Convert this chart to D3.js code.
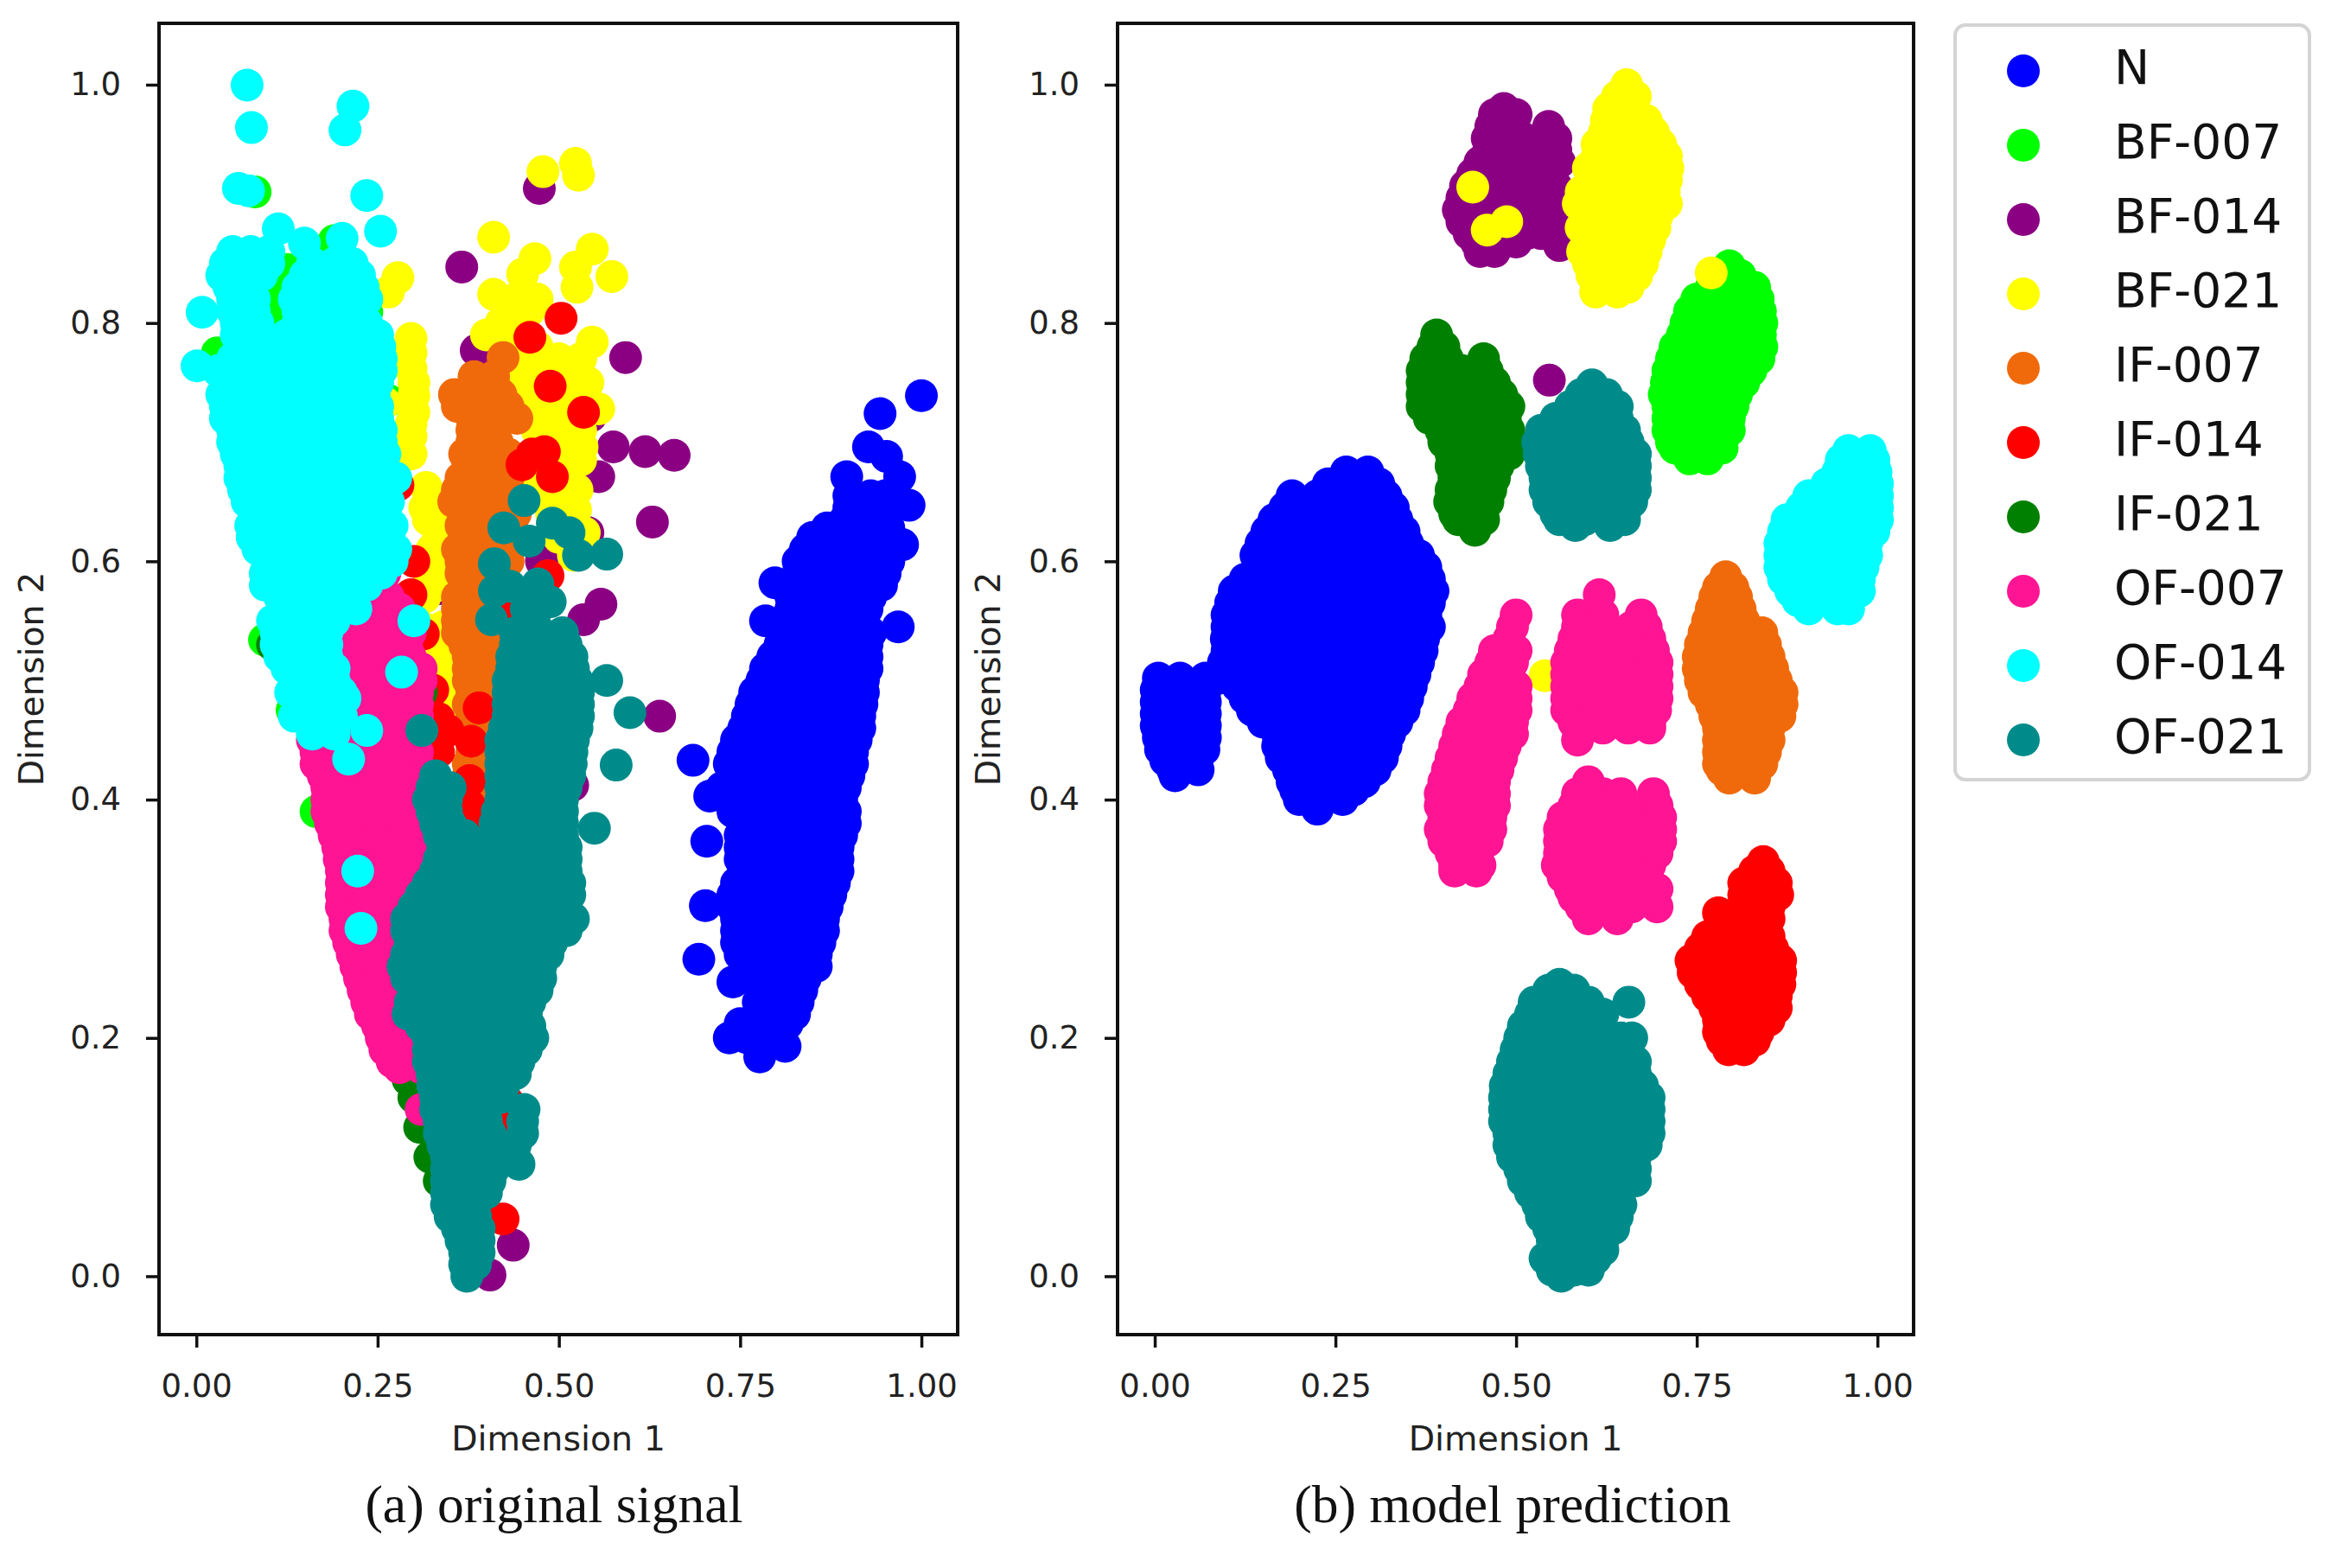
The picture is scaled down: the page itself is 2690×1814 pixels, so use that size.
<!DOCTYPE html>
<html lang="en">

<head>
    <meta charset="UTF-8">
    <title>Dimension reduction scatter: original signal and model prediction</title>
    <script src="https://d3js.org/d3.v7.min.js"></script>
    <style>
        body {
            margin: 0;
            background: #fff;
        }

        .tick text {
            font-family: 'DejaVu Sans', sans-serif;
            font-size: 37px;
            fill: #222;
        }

        .axis-label {
            font-family: 'DejaVu Sans', sans-serif;
            font-size: 39.5px;
            fill: #222;
        }

        .legend-label {
            font-family: 'DejaVu Sans', sans-serif;
            font-size: 55px;
            fill: #111;
        }

        .caption {
            font-family: 'Liberation Serif', serif;
            font-size: 61.5px;
            fill: #111;
            text-anchor: middle;
        }
    </style>
</head>

<body>
    <div id="chart"></div>
    <script>

    var categories = ["N", "BF-007", "BF-014", "BF-021", "IF-007", "IF-014", "IF-021", "OF-007", "OF-014", "OF-021"];
    var colors = ["#0000ff", "#00ff00", "#8b0082", "#ffff00", "#f06a0c", "#ff0000", "#008000", "#ff1493", "#00ffff", "#008b8b"];
    var xTicks = [0, 0.25, 0.5, 0.75, 1];
    var yTicks = [0, 0.2, 0.4, 0.6, 0.8, 1];

    // every row is [dimension 2, dimension 1, dimension 1, ...]

    // (a) original signal
    var origN = [
        [.739,1],[.724,.943],[.696,.927],[.688,.952],[.671,.97],[.671,.897],[.647,.983],[.614,.974],[.545,.968],[.582,.798],[.55,.785],
        [.433,.685],[.403,.708],[.365,.704],[.311,.702],[.266,.693],[.247,.74],[.2,.735],[.184,.777],[.193,.812],
        [.655,.9,.93,.95],[.635,.895,.93,.945],[.62,.85,.885,.92,.95],[.6,.83,.865,.9,.935,.955],[.58,.825,.86,.895,.93,.945],
        [.56,.82,.855,.89,.925],[.54,.81,.845,.88,.915,.93],[.52,.795,.83,.865,.9,.925],[.5,.78,.815,.85,.885,.92],
        [.48,.765,.8,.835,.87,.905,.918],[.46,.755,.79,.825,.86,.895,.915],[.44,.74,.775,.81,.845,.88,.905],
        [.42,.74,.775,.81,.845,.88,.9],[.4,.74,.775,.81,.845,.88,.89],[.38,.755,.79,.825,.86,.895],[.36,.75,.785,.82,.855,.885],
        [.34,.755,.79,.825,.86,.885],[.32,.74,.775,.81,.845,.875],[.3,.745,.78,.815,.85,.865],[.28,.745,.78,.815,.85,.86],
        [.26,.76,.795,.83,.855],[.24,.78,.81,.835],[.22,.78,.81,.825],[.205,.78,.8],
        [.645,.9,.935,.96],[.628,.87,.905,.94,.955],[.61,.84,.875,.91,.945,.96],[.59,.83,.865,.9,.935,.95],[.57,.82,.855,.89,.925,.93],[.55,.815,.85,.885,.92],
        [.53,.805,.84,.875,.91,.925],[.51,.785,.82,.855,.89,.925],[.49,.77,.805,.84,.875,.91,.92],[.47,.76,.795,.83,.865,.9,.915],[.45,.745,.78,.815,.85,.885,.91],
        [.43,.735,.77,.805,.84,.875,.905],[.41,.725,.76,.795,.83,.865,.895],[.39,.74,.775,.81,.845,.88,.895],[.37,.75,.785,.82,.855,.89],[.35,.75,.785,.82,.855,.885],
        [.33,.745,.78,.815,.85,.88],[.31,.74,.775,.81,.845,.87],[.29,.745,.78,.815,.85,.865],[.27,.75,.785,.82,.855],[.25,.775,.81,.84],[.23,.775,.805,.83],
        [.212,.75,.79,.815],[.2,.76,.79]
    ];
    var origBF007 = [
        [.91,.081],[.869,.19],[.85,.098],[.813,.107],[.803,.214],[.809,.235],[.775,.029],[.735,.265],[.39,.165],[.534,.094],[.475,.132],[.773,.098],[.807,.192],
        [.83,.11],[.8,.105],[.845,.125]
    ];
    var origBF014 = [
        [.913,.473],[.847,.366],[.771,.592],[.745,.534],[.722,.544],[.696,.575],[.692,.619],[.689,.659],[.671,.555],[.658,.519],[.633,.629],[.624,.54],
        [.609,.515],[.564,.558],[.551,.534],[.577,.334],[.526,.34],[.47,.639],[.777,.386],[.412,.519],[.001,.405],[.026,.437],[.6,.476]
    ];
    var origBF021 = [
        [.927,.478],[.934,.523],[.924,.527],[.872,.41],[.862,.546],[.854,.467],[.841,.45],[.847,.523],[.83,.525],[.839,.573],[.824,.41],[.811,.46],
        [.79,.4],[.784,.546],[.838,.278],[.826,.265],[.787,.296],[.762,.296],[.739,.3],[.705,.296],[.69,.296],[.733,.26],
        [.8,.42,.44],[.78,.43,.47],[.76,.459,.49,.52],[.74,.467,.5,.53],[.728,.555,.47],[.71,.47,.5,.53],[.696,.532,.5],[.67,.47,.5],[.655,.5],[.643,.523],[.624,.535],
        [.662,.317],[.645,.315],[.63,.33],[.61,.325],[.59,.326],[.57,.315],[.555,.21],[.513,.128],[.49,.132],[.5,.34],[.46,.35],
        [.82,.44,.47],[.77,.44,.46,.5,.53],[.75,.45,.48,.51,.54],[.73,.49,.52,.54],[.72,.47,.5,.525],[.685,.48,.51,.53],[.66,.47,.51,.525],[.64,.49,.515],[.62,.5,.53],[.605,.52],
        [.775,.296],[.75,.3],[.725,.3],[.715,.296],[.65,.325],[.635,.32],[.6,.33],[.58,.32,.335],[.545,.31,.34],[.53,.32],[.52,.315,.35],[.48,.345],[.47,.355],[.57,.19],[.53,.13]
    ];
    var origIF007 = [
        [.771,.423],[.755,.383,.41],[.74,.356,.39,.42],[.72,.38,.41,.442],[.7,.38,.415],[.68,.375,.41,.425],[.66,.36,.395,.43],[.64,.375,.41,.44],
        [.62,.37,.405],[.6,.365,.4,.43],[.58,.37,.405],[.56,.36,.395],[.54,.36,.395],[.52,.375,.41],[.5,.375,.41],[.48,.375,.41],[.46,.375,.41],
        [.44,.38,.41],[.42,.375,.39],[.4,.365,.385],[.385,.37],
        [.73,.36,.395,.43],[.71,.38,.41],[.69,.37,.41,.43],[.67,.365,.4,.43],[.65,.355,.39,.43],[.63,.365,.4,.435],[.61,.36,.395,.425],[.59,.365,.4],[.57,.36,.395],[.55,.36,.395],
        [.53,.37,.405],[.51,.375,.41],[.49,.38,.41],[.47,.38,.41],[.45,.38,.405],[.43,.375,.395],[.41,.37,.385],[.39,.37]
    ];
    var origIF014 = [
        [.804,.503],[.788,.46],[.747,.488],[.725,.534],[.69,.463],[.692,.48],[.681,.449],[.671,.491],[.664,.278],[.6,.3],[.572,.296],[.539,.313],[.588,.485],
        [.492,.326],[.477,.39],[.468,.334],[.449,.379],[.44,.334],[.395,.377],[.374,.377],[.048,.423],[.146,.43],[.135,.43],[.555,.433],[.458,.347],[.416,.377]
    ];
    var origIF021 = [
        [.165,.292],[.15,.3],[.125,.308],[.1,.322],[.08,.335],[.495,.215],[.49,.31],[.53,.105],[.47,.23]
    ];
    var origOF007 = [
        [.59,.23,.26],[.57,.23,.265],[.55,.2,.23,.27],[.53,.2,.23,.265,.29],[.51,.18,.215,.25,.285,.31],[.49,.17,.205,.24,.275,.305],
        [.47,.165,.2,.235,.27,.305],[.45,.16,.195,.23,.265,.3],[.43,.165,.2,.235,.27,.305],[.41,.18,.215,.25,.285,.32],[.39,.18,.215,.25,.285,.32],
        [.37,.19,.225,.26,.295,.33],[.35,.197,.23,.265,.3,.33],[.33,.2,.235,.27,.305],[.31,.2,.235,.27,.3],[.29,.205,.24,.275,.31],
        [.27,.215,.25,.285,.32],[.25,.225,.26,.295,.33],[.23,.235,.27,.305,.335],[.21,.25,.285,.32],[.19,.26,.295,.33],[.175,.28,.31],[.14,.31],
        [.58,.25],[.56,.22,.25,.28],[.54,.195,.23,.265,.295],[.52,.19,.225,.26,.295],[.5,.175,.21,.245,.28,.31],[.48,.165,.2,.235,.27,.305],[.46,.16,.195,.23,.265,.3],
        [.44,.165,.2,.235,.27,.305],[.42,.175,.21,.245,.28,.315],[.4,.18,.215,.25,.285,.32],[.38,.185,.22,.255,.29,.325],[.36,.195,.23,.265,.3,.33],[.34,.2,.235,.27,.305],
        [.32,.2,.235,.27,.3],[.3,.205,.24,.275,.31],[.28,.21,.245,.28,.315],[.26,.22,.255,.29,.325],[.24,.23,.265,.3,.33],[.22,.24,.275,.31],[.2,.255,.29,.325],[.18,.27,.305]
    ];
    var origOF014 = [
        [.9996,.07],[.964,.076],[.982,.216],[.962,.205],[.913,.058],[.911,.072],[.907,.235],[.877,.254],[.879,.113],[.867,.149],[.809,.008],[.764,.001],[.871,.201],
        [.34,.2225],[.292,.227],[.55,.3],[.507,.283],[.434,.21],[.458,.235],[.462,.171],
        [.86,.05,.075,.1],[.84,.035,.065,.09,.15,.18,.2,.225],[.82,.05,.08,.135,.165,.2,.235],[.8,.055,.085,.14,.175,.21,.235],[.78,.06,.09,.125,.16,.195,.253],
        [.76,.03,.06,.095,.13,.165,.2,.235,.255],[.74,.035,.07,.105,.14,.175,.21,.245],[.72,.04,.075,.11,.145,.18,.215,.25],[.7,.05,.085,.12,.155,.19,.225,.255],
        [.68,.06,.095,.13,.165,.2,.235,.255],[.67,.275],[.66,.065,.1,.135,.17,.205,.24,.255],[.64,.08,.115,.15,.185,.22,.255,.26],[.62,.077,.11,.145,.18,.215,.25,.265],
        [.6,.105,.14,.175,.21,.245,.27],[.58,.095,.13,.165,.2,.225,.235],[.56,.13,.165,.2,.22],[.54,.11,.145,.18],[.52,.115,.15,.18],[.5,.137,.16,.19],[.485,.14,.175,.205],[.47,.135,.17,.2],[.455,.16,.19],
        [.85,.04,.07,.1,.16,.19,.215],[.83,.045,.075,.14,.17,.2,.23],[.81,.05,.08,.14,.17,.2,.225],[.79,.055,.09,.125,.16,.19,.23,.25],[.77,.05,.085,.12,.155,.19,.225,.255],
        [.75,.04,.075,.11,.145,.18,.215,.25],[.73,.04,.075,.11,.145,.18,.215,.25],[.71,.05,.085,.12,.155,.19,.225,.255],[.69,.055,.09,.125,.16,.195,.23,.26],[.67,.06,.095,.13,.165,.2,.235],
        [.65,.07,.105,.14,.175,.21,.245,.265],[.63,.075,.11,.145,.18,.215,.25,.27],[.61,.085,.12,.155,.19,.225,.26,.275],[.59,.095,.13,.165,.2,.235,.255],[.57,.115,.15,.185,.215],
        [.55,.105,.14,.175,.19],[.53,.11,.145,.18],[.51,.125,.16,.19],[.49,.13,.165,.2]
    ];
    var origOF021 = [
        [.651,.452],[.628,.424],[.632,.491],[.624,.514],[.605,.527],[.606,.566],[.617,.459],[.598,.411],[.575,.411],[.579,.433],[.551,.407],[.581,.471],[.566,.488],
        [.5,.566],[.473,.598],[.429,.579],[.376,.549],[.458,.311],[.094,.445],
        [.56,.455,.47],[.54,.44,.475,.505],[.52,.435,.47,.505,.518],[.5,.43,.465,.5,.525],[.48,.43,.465,.5,.527],[.46,.425,.46,.495,.525],[.44,.42,.455,.49,.518],
        [.42,.33,.42,.455,.49,.515],[.4,.32,.345,.42,.455,.49,.505],[.38,.33,.35,.412,.445,.48,.505],[.36,.34,.375,.41,.445,.48,.51],[.34,.33,.365,.4,.435,.47,.51],
        [.32,.31,.345,.38,.415,.45,.485,.515],[.3,.29,.325,.36,.395,.43,.465,.5,.52],[.28,.295,.33,.365,.4,.435,.47,.49],[.26,.285,.32,.355,.39,.425,.46,.475],
        [.24,.3,.335,.37,.405,.44,.47],[.22,.292,.33,.365,.4,.435,.455],[.2,.32,.355,.39,.425,.464],[.18,.32,.355,.39,.425,.445],[.16,.326,.36,.395,.424],
        [.14,.33,.365,.4,.452],[.12,.335,.37,.405,.45],[.1,.345,.38,.405],[.08,.345,.38,.405],[.06,.345,.385],[.04,.36,.39],[.02,.37,.39],[0,.373],
        [.53,.44,.475,.51],[.51,.435,.47,.505,.52],[.49,.43,.465,.5,.527],[.47,.43,.465,.5,.527],[.45,.42,.455,.49,.52],[.43,.42,.455,.49,.517],[.41,.325,.35,.42,.455,.49,.51],
        [.39,.325,.345,.415,.45,.485,.505],[.37,.335,.37,.41,.445,.48,.505],[.35,.335,.37,.405,.44,.475,.51],[.33,.32,.355,.39,.425,.46,.495,.515],[.31,.3,.335,.37,.405,.44,.475,.51],
        [.29,.29,.325,.36,.395,.43,.465,.5,.51],[.27,.29,.325,.36,.395,.43,.465,.485],[.25,.29,.325,.36,.395,.43,.465,.475],[.23,.295,.33,.365,.4,.435,.46],[.21,.31,.345,.38,.415,.45,.46],
        [.19,.32,.355,.39,.425,.455],[.17,.325,.36,.395,.43,.44],[.15,.33,.365,.4,.42],[.13,.335,.37,.4,.45],[.11,.34,.375,.405,.44],[.09,.345,.38,.41],[.07,.345,.38,.4],[.05,.35,.385],[.03,.365,.39],[.01,.37,.385]
    ];

    // (b) model prediction
    var predN = [
        [.675,.265,.295],[.655,.19,.225,.26,.295,.32],[.635,.165,.2,.235,.27,.305,.335],[.615,.147,.18,.215,.25,.285,.32,.35],[.595,.147,.165,.2,.235,.27,.305,.34,.375],
        [.575,.11,.145,.18,.215,.25,.285,.32,.355,.385],[.555,.1,.13,.165,.2,.235,.27,.305,.34,.375],[.535,.099,.115,.15,.185,.22,.255,.29,.325,.36,.372],
        [.515,.095,.13,.165,.2,.235,.27,.305,.34,.365],[.495,.115,.15,.185,.22,.255,.29,.325,.355],[.475,.135,.17,.205,.24,.275,.31,.345],[.455,.17,.205,.24,.275,.31,.325],
        [.435,.175,.21,.245,.28,.315],[.415,.19,.225,.26,.29],[.4,.2,.23,.26],[.392,.225],
        [.502,.005,.035,.07,.09],[.482,.002,.035,.07],[.462,.002,.035,.07],[.442,.008,.04,.068],[.425,.025,.06],[.42,.028],
        [.665,.24,.28,.31],[.645,.18,.21,.245,.28,.315,.33],[.625,.155,.19,.225,.26,.295,.33,.345],[.605,.14,.175,.21,.245,.28,.315,.35,.365],[.585,.125,.16,.195,.23,.265,.3,.335,.37,.38],
        [.565,.105,.13,.17,.2,.24,.27,.31,.34,.38],[.545,.1,.14,.175,.21,.245,.28,.315,.35,.38],[.525,.1,.13,.17,.2,.24,.27,.31,.34,.37],[.505,.1,.14,.175,.21,.245,.28,.315,.35,.36],
        [.485,.125,.165,.2,.235,.27,.305,.34,.35],[.465,.15,.185,.22,.255,.29,.325,.335],[.445,.17,.195,.23,.265,.3,.32],[.425,.185,.22,.255,.285,.305],[.408,.195,.25,.275],
        [.492,.002,.035,.07],[.472,.002,.035,.07],[.452,.005,.035,.07],[.433,.015,.05]
    ];
    var predBF007 = [
        [.848,.795],[.83,.77,.805,.83],[.81,.74,.775,.81,.838],[.79,.73,.765,.8,.838],[.77,.715,.75,.785,.82,.836],[.75,.708,.74,.775,.81,.815],
        [.73,.71,.745,.78,.8],[.71,.71,.745,.775,.795],[.695,.72,.755,.785],[.686,.74,.765],[.84,.655],
        [.84,.78,.81],[.82,.75,.785,.82,.835],[.8,.735,.77,.805,.84],[.78,.72,.755,.79,.825,.84],[.76,.71,.745,.78,.815,.825],[.74,.705,.74,.775,.805],[.72,.71,.745,.78,.795],[.7,.715,.75,.785]
    ];
    var predBF014 = [
        [.98,.483],[.965,.465,.495,.545],[.945,.462,.495,.53,.555],[.925,.44,.475,.51,.545],[.905,.425,.46,.495,.53,.555],[.885,.425,.46,.495,.53,.557],
        [.868,.445,.465,.5],[.865,.56],[.752,.546],
        [.975,.47,.5],[.955,.46,.48,.51,.54,.555],[.935,.45,.48,.515,.55,.56],[.915,.43,.46,.49,.525,.555],[.895,.42,.44,.475,.51,.545,.555],[.875,.435,.45,.48,.515,.535],[.86,.45,.47]
    ];
    var predBF021 = [
        [1,.653],[.98,.628,.66],[.96,.622,.655,.69],[.94,.612,.645,.68,.708],[.92,.61,.645,.68,.708],[.9,.586,.62,.655,.69,.708],[.88,.59,.625,.66,.692],
        [.86,.592,.625,.66,.68],[.84,.605,.64,.667],[.826,.61,.64],
        [.99,.64,.665],[.97,.625,.655,.68],[.95,.612,.64,.67,.7],[.93,.6,.63,.66,.695,.71],[.91,.59,.625,.66,.695,.705],[.89,.595,.63,.665,.695],[.87,.6,.635,.67,.685],[.85,.6,.63,.665,.675],[.83,.615,.645,.655],
        [.914,.44],[.878,.46],[.885,.487],[.842,.77],[.504,.54]
    ];
    var predIF007 = [
        [.587,.79],[.57,.775,.805],[.55,.765,.8,.815],[.53,.755,.79,.825,.845],[.51,.752,.785,.82,.855],[.49,.76,.795,.83,.868],[.47,.775,.81,.845,.865],
        [.45,.78,.815,.85],[.43,.78,.815,.84],[.418,.795,.83],
        [.578,.78,.8],[.56,.77,.795,.81],[.54,.76,.79,.82,.84],[.52,.752,.785,.82,.85],[.5,.755,.79,.825,.86],[.48,.77,.805,.84,.868],[.46,.78,.815,.85],[.44,.78,.815,.845],[.425,.785,.83]
    ];
    var predIF014 = [
        [.348,.842],[.33,.815,.85,.86],[.31,.815,.85],[.285,.765,.8,.835,.85],[.265,.742,.775,.81,.845,.866],[.245,.755,.79,.825,.865],[.225,.775,.81,.845,.86],
        [.205,.78,.815,.835],[.19,.794,.815],
        [.34,.83,.85],[.32,.815,.85,.862],[.3,.785,.82,.85],[.275,.755,.79,.825,.855],[.255,.745,.78,.815,.85,.866],[.235,.765,.8,.835,.86],[.215,.78,.815,.85],[.198,.785,.82,.83],[.305,.78]
    ];
    var predIF021 = [
        [.79,.39],[.77,.375,.405,.455],[.75,.37,.405,.44,.47],[.73,.37,.405,.44,.475,.49],[.71,.396,.43,.465,.49],[.69,.41,.445,.48,.49],[.67,.414,.445,.47],
        [.65,.408,.44,.461],[.635,.42,.455],[.626,.443],
        [.78,.385,.4],[.76,.37,.39,.425,.46],[.74,.37,.39,.425,.46,.48],[.72,.38,.415,.45,.485],[.7,.4,.435,.47,.49],[.68,.41,.445,.475],[.66,.41,.44,.465],[.64,.415,.45]
    ];
    var predOF007 = [
        [.555,.5],[.535,.49],[.515,.465,.495],[.495,.45,.485,.5],[.475,.435,.47,.5],[.455,.42,.455,.495],[.435,.41,.445,.48],[.415,.4,.435,.47],[.395,.395,.43,.47],
        [.375,.395,.43,.465],[.355,.41,.445],[.34,.415,.445],
        [.545,.495],[.525,.47,.5],[.505,.455,.49],[.485,.44,.475,.5],[.465,.425,.46,.495],[.445,.415,.45,.485],[.425,.405,.44,.475],[.405,.395,.43,.47],[.385,.4,.43,.465],[.365,.4,.435,.46],[.345,.415,.45],
        [.572,.615],[.555,.585,.62,.673],[.535,.58,.615,.65,.685],[.515,.57,.605,.64,.675,.695],[.495,.57,.605,.64,.675,.695],[.475,.57,.605,.64,.675,.693],[.46,.585,.62,.655,.685],[.45,.585],
        [.545,.585,.615,.66,.68],[.525,.575,.61,.645,.68,.69],[.505,.57,.605,.64,.675,.695],[.485,.57,.605,.64,.675,.695],[.465,.58,.615,.65,.685],
        [.415,.6],[.405,.585,.62,.645,.69],[.385,.565,.6,.635,.67,.7],[.365,.56,.595,.63,.665,.7],[.345,.557,.59,.625,.66,.685],[.325,.575,.61,.645,.675,.695],[.31,.59,.625,.66,.695],[.3,.6,.64],
        [.395,.58,.615,.65,.695],[.375,.56,.595,.63,.665,.7],[.355,.56,.595,.63,.665,.695],[.335,.565,.6,.635,.67,.68],[.318,.58,.615,.65,.685]
    ];
    var predOF014 = [
        [.693,.96,.99],[.675,.945,.98,.998],[.655,.905,.93,.965,1],[.635,.875,.91,.945,.98,1],[.615,.865,.9,.935,.97,.985],[.595,.865,.9,.935,.97,.98],[.575,.88,.915,.95,.975],[.56,.905,.945,.96],
        [.685,.95,.975,.995],[.665,.93,.96,.995,1],[.645,.895,.93,.965,1],[.625,.87,.905,.94,.975,.995],[.605,.865,.9,.935,.97,.985],[.585,.87,.905,.94,.975],[.567,.89,.93,.96]
    ];
    var predOF021 = [
        [.748,.605],[.73,.575,.61,.64],[.71,.535,.57,.6,.635,.65],[.69,.532,.565,.6,.635,.665],[.67,.54,.575,.61,.645,.665],[.65,.545,.58,.615,.65,.66],[.635,.56,.595,.63,.65],[.63,.582,.63],
        [.74,.59,.625],[.72,.555,.59,.625,.64],[.7,.53,.55,.585,.62,.655],[.68,.535,.57,.605,.64,.665],[.66,.54,.575,.61,.645,.665],[.64,.555,.59,.625,.65],
        [.245,.56],[.23,.525,.565,.6,.656],[.21,.51,.545,.58,.615],[.19,.5,.535,.57,.605,.64,.655],[.17,.49,.525,.56,.595,.63,.665],[.15,.484,.52,.555,.59,.625,.66,.684],
        [.13,.484,.52,.555,.59,.625,.66,.684],[.11,.49,.525,.56,.595,.63,.665,.68],[.09,.505,.54,.575,.61,.645,.665],[.07,.52,.555,.59,.625,.64],[.05,.535,.57,.605,.64],
        [.03,.55,.585,.62],[.015,.54,.575,.61],[.005,.55,.58,.6],[0,.5625],
        [.24,.545,.58],[.22,.52,.555,.59,.62],[.2,.505,.54,.575,.61,.645,.66],[.18,.495,.53,.565,.6,.635,.665],[.16,.485,.52,.555,.59,.625,.66,.675],[.14,.484,.52,.555,.59,.625,.66,.684],
        [.12,.49,.525,.56,.595,.63,.665,.684],[.1,.495,.53,.565,.6,.635,.665],[.08,.51,.545,.58,.615,.65,.665],[.06,.53,.565,.6,.635,.645],[.04,.545,.58,.615,.635],[.022,.55,.585,.62]
    ];

    var origSeries = [origN, origBF007, origBF014, origBF021, origIF007, origIF014, origIF021, origOF007, origOF014, origOF021];
    var predSeries = [predN, predBF007, predBF014, predBF021, predIF007, predIF014, predIF021, predOF007, predOF014, predOF021];

    var size = {width: 2690, height: 1814};
    var plotTop = 27, plotBottom = 1544, radius = 19;

    var svg = d3.select("#chart").append("svg")
        .attr("width", size.width)
        .attr("height", size.height)
        .style("display", "block");

    var y = d3.scaleLinear().domain([-0.049, 1.0515]).range([plotBottom, plotTop]);

    function drawPanel(series, left, right, labelX, caption, captionX) {
        var x = d3.scaleLinear().domain([-0.0515, 1.05]).range([left, right]);
        var panel = svg.append("g");

        panel.selectAll(".series")
            .data(series)
            .enter()
            .append("g")
            .attr("fill", function(d, i) { return colors[i]; })
            .selectAll("circle")
            .data(function(rows) {
                return rows.flatMap(function(r) {
                    return r.slice(1).map(function(v) { return [v, r[0]]; });
                });
            })
            .enter()
            .append("circle")
            .attr("cx", function(d) { return x(d[0]); })
            .attr("cy", function(d) { return y(d[1]); })
            .attr("r", radius);

        panel.append("rect")
            .attr("x", left)
            .attr("y", plotTop)
            .attr("width", right - left)
            .attr("height", plotBottom - plotTop)
            .attr("fill", "none")
            .attr("stroke", "#111")
            .attr("stroke-width", 4);

        var xAxis = d3.axisBottom(x).tickValues(xTicks).tickFormat(d3.format(".2f")).tickSize(15).tickPadding(31);
        var yAxis = d3.axisLeft(y).tickValues(yTicks).tickFormat(d3.format(".1f")).tickSize(15).tickPadding(29);

        var gx = panel.append("g").attr("transform", "translate(0," + plotBottom + ")").call(xAxis);
        var gy = panel.append("g").attr("transform", "translate(" + left + ",0)").call(yAxis);
        [gx, gy].forEach(function(g) {
            g.select(".domain").remove();
            g.selectAll(".tick line").attr("stroke", "#111").attr("stroke-width", 3.5);
        });

        panel.append("text")
            .attr("class", "axis-label")
            .attr("x", (left + right) / 2)
            .attr("y", 1678)
            .attr("text-anchor", "middle")
            .text("Dimension 1");

        panel.append("text")
            .attr("class", "axis-label")
            .attr("transform", "translate(" + labelX + "," + (plotTop + plotBottom) / 2 + ") rotate(-90)")
            .attr("text-anchor", "middle")
            .text("Dimension 2");

        svg.append("text")
            .attr("class", "caption")
            .attr("x", captionX)
            .attr("y", 1761)
            .text(caption);
    }

    drawPanel(origSeries, 184, 1108, 50, "(a) original signal", 641);
    drawPanel(predSeries, 1293, 2214, 1157, "(b) model prediction", 1750);

    // legend
    var legendY = d3.scaleLinear().domain([0, categories.length - 1]).range([82, 856]);
    var legend = svg.append("g");

    legend.append("rect")
        .attr("x", 2262)
        .attr("y", 29)
        .attr("width", 410)
        .attr("height", 873)
        .attr("rx", 12)
        .attr("fill", "#fff")
        .attr("stroke", "#d4d4d4")
        .attr("stroke-width", 4);

    var items = legend.selectAll(".item")
        .data(categories)
        .enter()
        .append("g")
        .attr("class", "item");

    items.append("circle")
        .attr("cx", 2341)
        .attr("cy", function(d, i) { return legendY(i); })
        .attr("r", radius)
        .attr("fill", function(d, i) { return colors[i]; });

    items.append("text")
        .attr("class", "legend-label")
        .attr("x", 2446)
        .attr("y", function(d, i) { return legendY(i) + 15; })
        .text(function(d) { return d; });

    </script>
</body>

</html>
